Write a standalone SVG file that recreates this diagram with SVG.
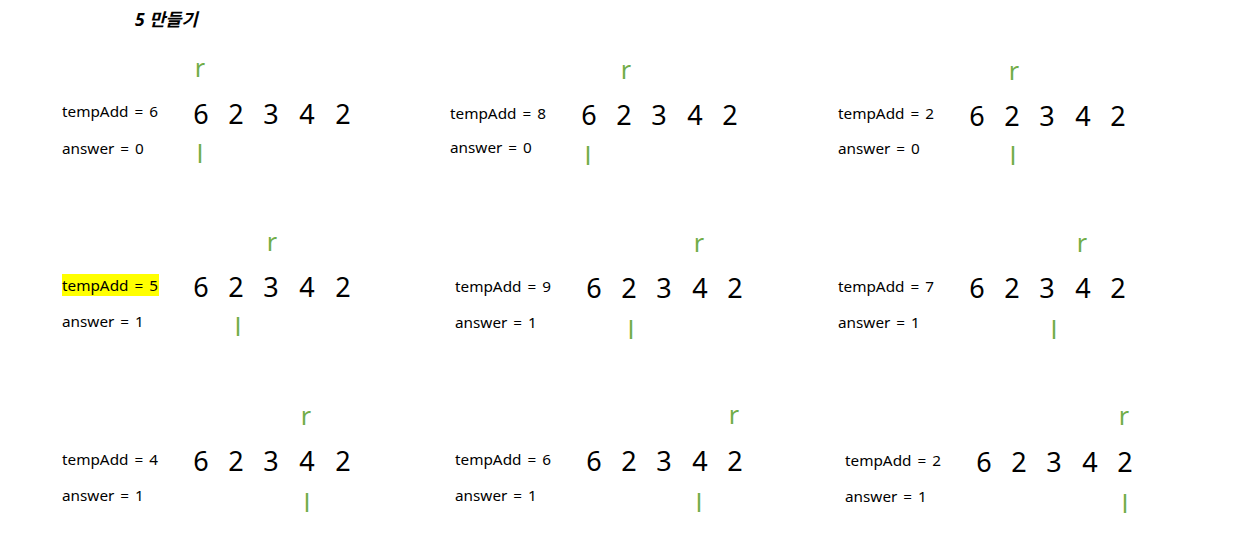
<svg xmlns="http://www.w3.org/2000/svg" width="1248" height="555" viewBox="0 0 1248 555">
<style>
.lbl{font-family:"Noto Sans","Open Sans",sans-serif;font-size:15.3px;fill:#000;word-spacing:2px}
.num{font-family:"Noto Sans","Open Sans",sans-serif;font-size:27px;fill:#000;text-anchor:middle}
.ptr{font-family:"Noto Sans","Open Sans",sans-serif;font-size:25px;fill:#70AD47;text-anchor:middle}
.title{font-family:"Noto Sans","Noto Sans CJK KR",sans-serif;font-size:17.5px;font-weight:bold;font-style:italic;fill:#000}
</style>
<rect width="1248" height="555" fill="#fff"/>
<text class="title" x="135" y="26">5 만들기</text>

<g id="step1">
<text class="lbl" x="62" y="117">tempAdd = 6</text>
<text class="lbl" x="62" y="154">answer = 0</text>
<text class="num" y="124"><tspan x="201">6</tspan><tspan x="236">2</tspan><tspan x="271">3</tspan><tspan x="307">4</tspan><tspan x="343">2</tspan></text>
<text class="ptr" x="200" y="77">r</text>
<text class="ptr" x="200" y="163">l</text>
</g>

<g id="step2">
<text class="lbl" x="450" y="119">tempAdd = 8</text>
<text class="lbl" x="450" y="153">answer = 0</text>
<text class="num" y="125"><tspan x="589">6</tspan><tspan x="624">2</tspan><tspan x="659">3</tspan><tspan x="695">4</tspan><tspan x="730">2</tspan></text>
<text class="ptr" x="626" y="79">r</text>
<text class="ptr" x="588" y="165">l</text>
</g>

<g id="step3">
<text class="lbl" x="838" y="119">tempAdd = 2</text>
<text class="lbl" x="838" y="154">answer = 0</text>
<text class="num" y="126"><tspan x="977">6</tspan><tspan x="1012">2</tspan><tspan x="1047">3</tspan><tspan x="1083">4</tspan><tspan x="1118">2</tspan></text>
<text class="ptr" x="1014" y="80">r</text>
<text class="ptr" x="1013" y="165">l</text>
</g>

<g id="step4">
<rect x="62" y="274" width="97" height="22" fill="#FFFF00"/>
<text class="lbl" x="62" y="291">tempAdd = 5</text>
<text class="lbl" x="62" y="327">answer = 1</text>
<text class="num" y="297"><tspan x="201">6</tspan><tspan x="236">2</tspan><tspan x="271">3</tspan><tspan x="307">4</tspan><tspan x="343">2</tspan></text>
<text class="ptr" x="272" y="251">r</text>
<text class="ptr" x="238" y="336">l</text>
</g>

<g id="step5">
<text class="lbl" x="455" y="292">tempAdd = 9</text>
<text class="lbl" x="455" y="328">answer = 1</text>
<text class="num" y="298"><tspan x="594">6</tspan><tspan x="629">2</tspan><tspan x="664">3</tspan><tspan x="700">4</tspan><tspan x="735">2</tspan></text>
<text class="ptr" x="699" y="252">r</text>
<text class="ptr" x="631" y="339">l</text>
</g>

<g id="step6">
<text class="lbl" x="838" y="292">tempAdd = 7</text>
<text class="lbl" x="838" y="328">answer = 1</text>
<text class="num" y="298"><tspan x="977">6</tspan><tspan x="1012">2</tspan><tspan x="1047">3</tspan><tspan x="1083">4</tspan><tspan x="1118">2</tspan></text>
<text class="ptr" x="1082" y="252">r</text>
<text class="ptr" x="1054" y="339">l</text>
</g>

<g id="step7">
<text class="lbl" x="62" y="465">tempAdd = 4</text>
<text class="lbl" x="62" y="501">answer = 1</text>
<text class="num" y="471"><tspan x="201">6</tspan><tspan x="236">2</tspan><tspan x="271">3</tspan><tspan x="307">4</tspan><tspan x="343">2</tspan></text>
<text class="ptr" x="306" y="425">r</text>
<text class="ptr" x="307" y="512">l</text>
</g>

<g id="step8">
<text class="lbl" x="455" y="465">tempAdd = 6</text>
<text class="lbl" x="455" y="501">answer = 1</text>
<text class="num" y="471"><tspan x="594">6</tspan><tspan x="629">2</tspan><tspan x="664">3</tspan><tspan x="700">4</tspan><tspan x="735">2</tspan></text>
<text class="ptr" x="734" y="424">r</text>
<text class="ptr" x="699" y="512">l</text>
</g>

<g id="step9">
<text class="lbl" x="845" y="466">tempAdd = 2</text>
<text class="lbl" x="845" y="502">answer = 1</text>
<text class="num" y="472"><tspan x="984">6</tspan><tspan x="1019">2</tspan><tspan x="1054">3</tspan><tspan x="1090">4</tspan><tspan x="1125">2</tspan></text>
<text class="ptr" x="1124" y="425">r</text>
<text class="ptr" x="1125" y="513">l</text>
</g>
</svg>
